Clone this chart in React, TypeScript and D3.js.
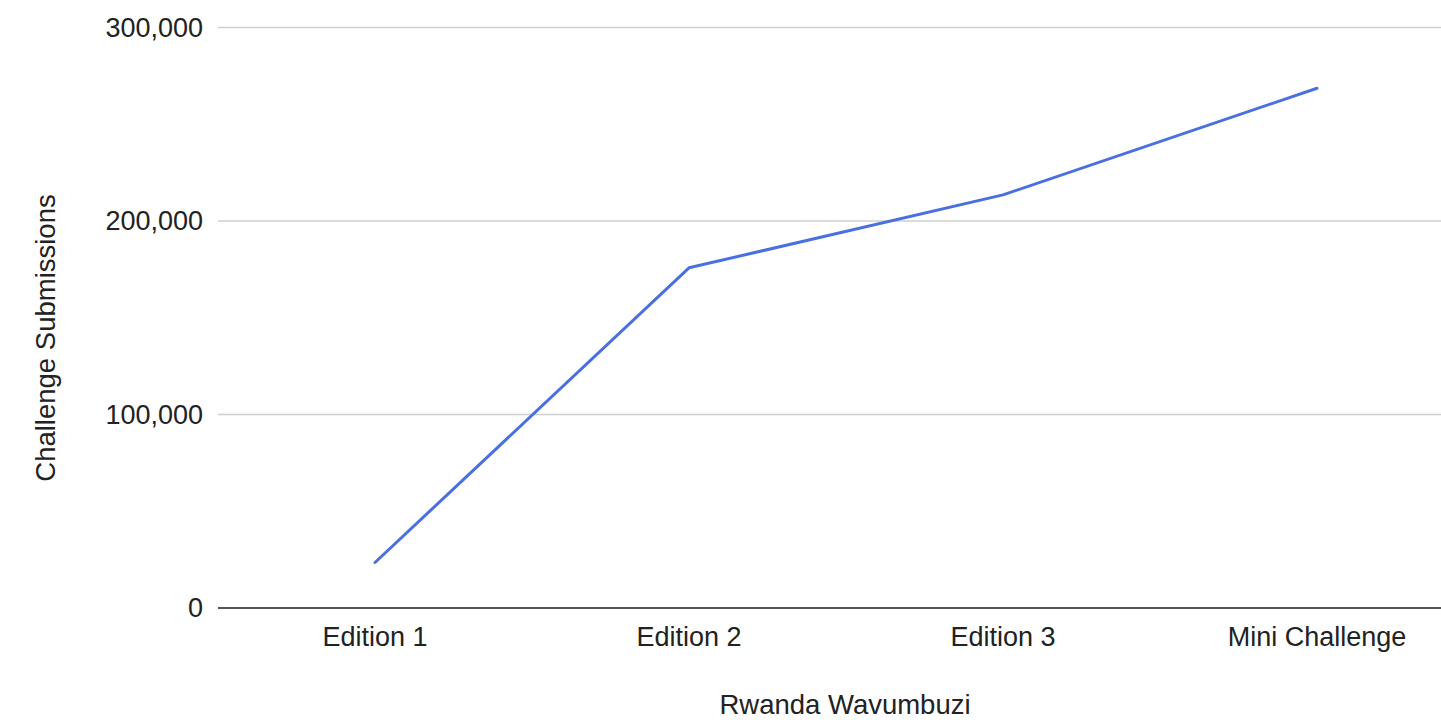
import React from "react";
import * as d3 from "d3";

const categories = ["Edition 1", "Edition 2", "Edition 3", "Mini Challenge"];
const submissions = [23500, 175800, 213500, 268600];
const yTicks = [0, 100000, 200000, 300000];
const xTitle = "Rwanda Wavumbuzi";
const yTitle = "Challenge Submissions";

const W = 1441;
const H = 725;

export default function App() {
  const x = d3.scaleBand<string>().domain(categories).range([218, 1474]);
  const y = d3.scaleLinear().domain([0, 300000]).range([608, 27.5]);
  const fmt = d3.format(",");
  const line = d3
    .line<number>()
    .x((_, i) => (x(categories[i]) as number) + x.bandwidth() / 2)
    .y((d) => y(d));
  const font = "'Liberation Sans', Arial, Helvetica, sans-serif";
  return (
    <svg
      width={W}
      height={H}
      style={{ position: "absolute", left: 0, top: 0, background: "#fff" }}
      fontFamily={font}
    >
      {yTicks.map((t) => (
        <g key={t}>
          <line
            x1={218}
            x2={W}
            y1={y(t)}
            y2={y(t)}
            stroke={t === 0 ? "#555" : "#cfcfcf"}
            strokeWidth={t === 0 ? 2.2 : 1.5}
          />
          <text
            x={203}
            y={y(t)}
            dy="0.35em"
            textAnchor="end"
            fontSize={27}
            fill="#222"
          >
            {fmt(t)}
          </text>
        </g>
      ))}
      {categories.map((c) => (
        <text
          key={c}
          x={(x(c) as number) + x.bandwidth() / 2}
          y={646}
          textAnchor="middle"
          fontSize={27}
          fill="#222"
        >
          {c}
        </text>
      ))}
      <path
        d={line(submissions) || ""}
        fill="none"
        stroke="#4a70e0"
        strokeWidth={3}
        strokeLinejoin="round"
        strokeLinecap="round"
      />
      <text x={845} y={714} textAnchor="middle" fontSize={27.5} fill="#222">
        {xTitle}
      </text>
      <text
        transform={`translate(55,338) rotate(-90)`}
        textAnchor="middle"
        fontSize={27.5}
        fill="#222"
      >
        {yTitle}
      </text>
    </svg>
  );
}
